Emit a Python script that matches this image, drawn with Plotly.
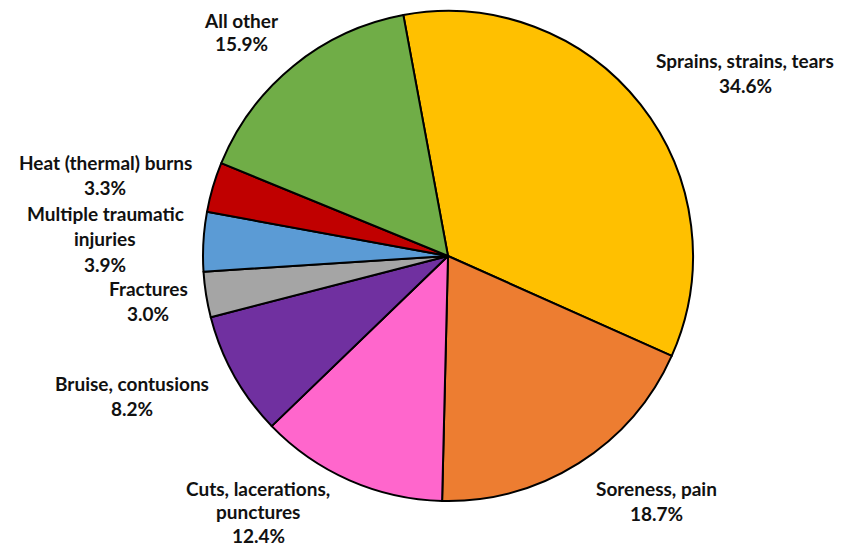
import plotly.graph_objects as go

categories = ["Sprains, strains, tears", "Soreness, pain", "Cuts, lacerations, punctures",
              "Bruise, contusions", "Fractures", "Multiple traumatic injuries",
              "Heat (thermal) burns", "All other"]
values = [34.6, 18.7, 12.4, 8.2, 3.0, 3.9, 3.3, 15.9]
label_lines = [["Sprains, strains, tears"], ["Soreness, pain"], ["Cuts, lacerations,", "punctures"],
               ["Bruise, contusions"], ["Fractures"], ["Multiple traumatic", "injuries"],
               ["Heat (thermal) burns"], ["All other"]]
colors = ["#FFC000", "#ED7D31", "#FF66CC", "#7030A0", "#A5A5A5", "#5B9BD5", "#C00000", "#70AD47"]

W, H = 842, 549
OFF = 8  # page body margin offset compensation
cx, cy, r = 448 - OFF, 256 - OFF, 245

fig = go.Figure(go.Pie(
    labels=categories, values=values, sort=False, direction="clockwise", rotation=-10.5,
    marker=dict(colors=colors, line=dict(color="black", width=2)),
    textinfo="none", hoverinfo="label+percent", showlegend=False,
    domain=dict(x=[(cx - r) / W, (cx + r) / W], y=[(H - cy - r) / H, (H - cy + r) / H]),
))

# label anchor (center x, first-line y, line gap) in reference pixels
label_pos = [(745, 60, 25.5), (656, 488, 25.5), (258, 488, 23.5), (132, 383, 25.5),
             (148, 288, 25.5), (105, 213, 25.5), (105, 162, 25.5), (242, 20, 24)]
for lines, v, (px, py, gap) in zip(label_lines, values, label_pos):
    all_lines = lines + [f"{v:.1f}%"]
    for i, t in enumerate(all_lines):
        x = px - OFF
        y = py - OFF + i * gap
        fig.add_annotation(x=x / W, y=1 - y / H, xref="paper", yref="paper", text=f"<b>{t}</b>",
                           showarrow=False, xanchor="center", yanchor="middle", borderpad=0,
                           font=dict(family="Lato, Open Sans, sans-serif", size=19, color="#111111"))

fig.update_layout(width=W, height=H, margin=dict(l=0, r=0, t=0, b=0),
                  paper_bgcolor="white", plot_bgcolor="white")
fig.write_html("out.html")
